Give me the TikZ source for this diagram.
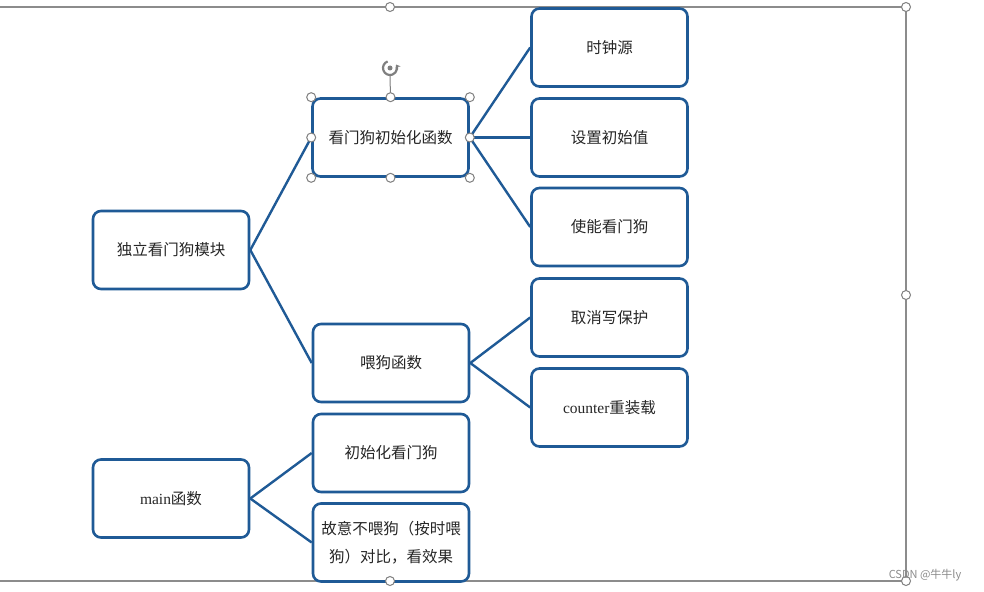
\documentclass[tikz,border=0pt]{standalone}
\usepackage{fontspec}
\setmainfont{Liberation Serif}
\newfontfamily\cjk{Noto Sans CJK SC}
\usetikzlibrary{arrows.meta}
\definecolor{boxblue}{HTML}{1F5A96}
\definecolor{handlegray}{HTML}{7F7F7F}
\begin{document}
\begin{tikzpicture}[x=1pt,y=-1pt,
  box/.style={draw=boxblue, line width=2.6pt, rounded corners=8pt, minimum width=156pt, minimum height=78pt, fill=white, align=center, font=\cjk\fontsize{15.5}{28}\selectfont, text=black!85, inner sep=0pt},
  link/.style={draw=boxblue, line width=2.4pt},
  handle/.style={circle, draw=handlegray, fill=white, line width=1pt, minimum size=9pt, inner sep=0pt},
  frameline/.style={draw=handlegray!90, line width=1.4pt}]
\useasboundingbox (0,0) rectangle (984,591);
\fill[white] (0,0) rectangle (984,591);
% selection frame of the whole graphic
\coordinate (fl1) at (-5,7);
\coordinate (fr1) at (906,7);
\coordinate (fr2) at (906,581);
\coordinate (fl2) at (-5,581);
\draw[frameline] (fl1) -- (fr1) -- (fr2) -- (fl2);
% boxes
\node[box] (A) at (171,250) {独立看门狗模块};
\node[box] (B) at (390.5,137.5) {看门狗初始化函数};
\node[box] (C) at (391,363) {喂狗函数};
\node[box] (D) at (609.5,47.5) {时钟源};
\node[box] (E) at (609.5,137.5) {设置初始值};
\node[box] (F) at (609.5,227) {使能看门狗};
\node[box] (G) at (609.5,317.5) {取消写保护};
\node[box] (H) at (609.5,407.5) {{\rmfamily counter}重装载};
\node[box] (I) at (171,498.5) {{\rmfamily main}函数};
\node[box] (J) at (391,453) {初始化看门狗};
\node[box] (K) at (391,542.5) {故意不喂狗（按时喂\\狗）对比，看效果};
% connectors
\draw[link] (A.east) -- (B.west);
\draw[link] (A.east) -- (C.west);
\draw[link] (B.east) -- (D.west);
\draw[link] (B.east) -- (E.west);
\draw[link] (B.east) -- (F.west);
\draw[link] (C.east) -- (G.west);
\draw[link] (C.east) -- (H.west);
\draw[link] (I.east) -- (J.west);
\draw[link] (I.east) -- (K.west);
% frame handles
\node[handle] (h1) at (390,7) {};
\node[handle] (h2) at (fr1) {};
\node[handle] (h3) at (906,295) {};
\node[handle] (h4) at (fr2) {};
\node[handle] (h5) at (390,581) {};
% selection handles of box B
\coordinate (rot) at (390,68);
\draw[handlegray, line width=1pt] (B.north) -- (390,76);
\foreach \a in {north west,north,north east,east,south east,south,south west,west}
  \node[handle] at (B.\a) {};
\draw[handlegray, line width=2.2pt, -{Stealth[length=4pt,width=6pt]}] (rot) ++(110:7pt) arc[start angle=110, end angle=390, radius=7pt];
\fill[handlegray] (rot) circle (2.5pt);
% watermark
\node[font=\cjk\fontsize{11}{13}\selectfont, text=black!45, inner sep=0pt] (wm) at (925,575) {CSDN @牛牛ly};
\end{tikzpicture}
\end{document}
